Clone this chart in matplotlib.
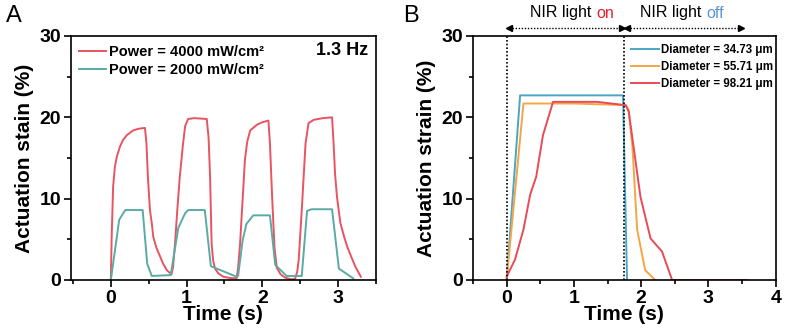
import matplotlib
matplotlib.use('Agg')
import matplotlib.pyplot as plt
import matplotlib.transforms as mtransforms
from matplotlib.ticker import MultipleLocator

plt.rcParams['font.family'] = ['Liberation Sans', 'DejaVu Sans']

# ---------------- Panel A data ----------------
tA_4000 = [0, 0.01, 0.03, 0.053, 0.08, 0.12, 0.16, 0.21, 0.295, 0.37, 0.45, 0.47, 0.49, 0.516, 0.54, 0.56,
           0.60, 0.65, 0.69, 0.74, 0.80, 0.82, 0.847, 0.88, 0.91, 0.95, 0.98, 1.02, 1.10, 1.266, 1.29, 1.31,
           1.33, 1.35, 1.375, 1.42, 1.486, 1.57, 1.66, 1.68, 1.706, 1.74, 1.77, 1.80, 1.84, 1.93, 2.00, 2.08,
           2.10, 2.13, 2.16, 2.19, 2.24, 2.30, 2.37, 2.43, 2.46, 2.48, 2.52, 2.57, 2.61, 2.68, 2.80, 2.92,
           2.94, 2.96, 2.985, 3.03, 3.08, 3.12, 3.18, 3.23, 3.30]
sA_4000 = [0, 5.0, 11.5, 13.9, 15.2, 16.4, 17.2, 17.8, 18.4, 18.6, 18.7, 16.8, 12.5, 8.6, 7.0, 5.3,
           4.0, 2.9, 2.0, 1.2, 0.7, 1.5, 4.5, 9.0, 12.7, 16.5, 18.9, 19.8, 19.9, 19.8, 17.5, 12.7,
           4.5, 2.4, 1.4, 0.8, 0.4, 0.25, 0.2, 1.5, 4.5, 10.0, 14.8, 17.0, 18.4, 19.1, 19.4, 19.6,
           16.8, 10.0, 4.0, 1.5, 0.7, 0.3, 0.1, 0.1, 1.0, 2.5, 8.6, 16.8, 19.3, 19.7, 19.9, 20.0,
           16.8, 13.0, 10.2, 7.0, 5.3, 4.1, 2.7, 1.6, 0.4]

tA_2000 = [0, 0.11, 0.19, 0.42, 0.48, 0.54, 0.79, 0.89, 0.98, 1.02, 1.24, 1.32, 1.66, 1.68, 1.74, 1.79,
           1.88, 2.10, 2.17, 2.32, 2.52, 2.59, 2.65, 2.92, 3.01, 3.20]
sA_2000 = [0, 7.4, 8.6, 8.6, 2.0, 0.5, 0.6, 6.4, 8.2, 8.6, 8.6, 1.7, 0.4, 0.5, 4.9, 6.9,
           7.95, 7.95, 1.85, 0.5, 0.5, 8.5, 8.7, 8.7, 1.4, 0.2]

labelsA = ['Power = 4000 mW/cm\u00b2', 'Power = 2000 mW/cm\u00b2']

# ---------------- Panel B data ----------------
tB_34 = [0, 0.2, 1.73, 1.79]
sB_34 = [0, 22.7, 22.7, 0]

tB_55 = [0, 0.25, 1.0, 1.77, 1.815, 1.87, 1.94, 2.06, 2.21]
sB_55 = [0, 21.7, 21.7, 21.5, 20.9, 16.4, 6.2, 1.2, 0]

tB_98 = [0, 0.124, 0.25, 0.35, 0.44, 0.54, 0.69, 1.34, 1.77, 1.815, 1.99, 2.14, 2.31, 2.46, 3.57]
sB_98 = [0.4, 2.5, 6.2, 10.5, 12.7, 17.8, 21.9, 21.9, 21.5, 20.7, 10.2, 5.1, 3.5, 0, 0]

labelsB = ['Diameter = 34.73 \u03bcm', 'Diameter = 55.71 \u03bcm', 'Diameter = 98.21 \u03bcm']
light_switch = [0, 1.75]

RED_A = '#e8545f'
TEAL_A = '#5aaaa5'
BLUE_B = '#4aa6c6'
ORANGE_B = '#f5a546'
RED_B = '#e84b57'

W, H = 788, 336
fig = plt.figure(figsize=(W / 100, H / 100), dpi=100)

def px_axes(l, r, t, b):
    return fig.add_axes([l / W, 1 - b / H, (r - l) / W, (b - t) / H])

axA = px_axes(70.7, 376, 36, 280)
axB = px_axes(473, 775.7, 36, 280)

def style(ax, xlim, xmaj):
    ax.set_xlim(*xlim)
    ax.set_ylim(0, 30)
    ax.xaxis.set_major_locator(MultipleLocator(xmaj))
    ax.xaxis.set_minor_locator(MultipleLocator(xmaj / 2))
    ax.yaxis.set_major_locator(MultipleLocator(10))
    ax.yaxis.set_minor_locator(MultipleLocator(5))
    ax.tick_params(which='major', direction='out', length=5, width=1.2, labelsize=14, pad=2)
    ax.tick_params(which='minor', direction='out', length=3, width=1.2)
    ax.tick_params(top=False, right=False)
    for s in ax.spines.values():
        s.set_linewidth(1.2)
    for lab in ax.get_xticklabels() + ax.get_yticklabels():
        lab.set_fontweight('bold')
    ax.set_xlabel('Time (s)', fontsize=15, fontweight='bold', labelpad=-1)

# ---- Panel A ----
axA.plot(tA_4000, sA_4000, color=RED_A, lw=1.4, label=labelsA[0])
axA.plot(tA_2000, sA_2000, color=TEAL_A, lw=1.4, label=labelsA[1])
style(axA, (-0.53, 3.5), 1)
axA.set_ylabel('Actuation stain (%)', fontsize=15, fontweight='bold', labelpad=4)
legA = axA.legend(loc='upper left', bbox_to_anchor=(0.0, 1.0), frameon=False,
                  prop={'weight': 'bold', 'size': 10.5}, handlelength=1.85, handletextpad=0.15,
                  labelspacing=0.3, borderaxespad=0.4, borderpad=0.2)
axA.text(0.975, 0.94, '1.3 Hz', transform=axA.transAxes, ha='right', va='center',
         fontsize=13, fontweight='bold')

# ---- Panel B ----
axB.plot(tB_34, sB_34, color=BLUE_B, lw=1.4, label=labelsB[0])
axB.plot(tB_55, sB_55, color=ORANGE_B, lw=1.4, label=labelsB[1])
axB.plot(tB_98, sB_98, color=RED_B, lw=1.4, label=labelsB[2])
for xv in light_switch:
    axB.axvline(xv, color='k', lw=1.2, ls=(0, (1, 1.2)), zorder=3)
style(axB, (-0.5, 4), 1)
axB.set_ylabel('Actuation strain (%)', fontsize=15, fontweight='bold', labelpad=4)
legB = axB.legend(loc='upper left', bbox_to_anchor=(0.515, 0.975), frameon=False,
                  prop={'weight': 'bold', 'size': 8.3}, handlelength=2.4, handletextpad=0.2,
                  labelspacing=0.42, borderaxespad=0.0, borderpad=0.2)

trB = mtransforms.blended_transform_factory(axB.transData, fig.transFigure)
arrow_y = 1 - 27.7 / H
for x0, x1 in [(0.04, 1.72), (1.79, 3.49)]:
    axB.plot([x0, x1], [arrow_y, arrow_y], color='k', lw=1.0, ls=(0, (1, 1.2)),
             transform=trB, clip_on=False)
    axB.plot([x0], [arrow_y], marker='<', color='k', ms=4.5, transform=trB, clip_on=False)
    axB.plot([x1], [arrow_y], marker='>', color='k', ms=4.5, transform=trB, clip_on=False)

text_y = 1 - 13 / H
t1 = axB.text(0.35, text_y, 'NIR light ', transform=trB, ha='left', va='center', fontsize=11.5)
axB.annotate('on', xy=(1, 0.5), xycoords=t1, ha='left', va='center', fontsize=11.5, color='#e0202a')
t2 = axB.text(1.99, text_y, 'NIR light ', transform=trB, ha='left', va='center', fontsize=11.5)
axB.annotate('off', xy=(1, 0.5), xycoords=t2, ha='left', va='center', fontsize=11.5, color='#5a96d2')

fig.text(6 / W, 1 - 5 / H, 'A', ha='left', va='top', fontsize=17)
fig.text(403 / W, 1 - 5 / H, 'B', ha='left', va='top', fontsize=17)

fig.savefig('out.png', dpi=100)
